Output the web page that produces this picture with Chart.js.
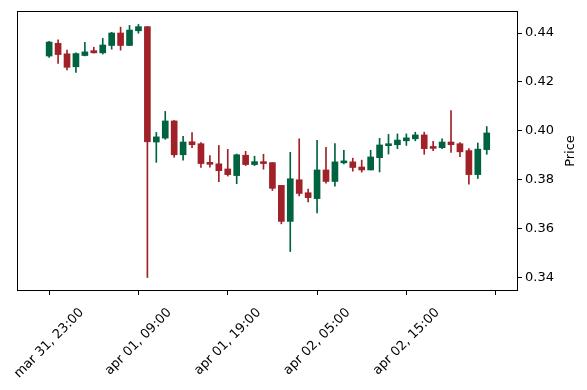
<!DOCTYPE html>
<html><head><meta charset="utf-8">
<script src="https://cdn.jsdelivr.net/npm/chart.js@4.4.0/dist/chart.umd.min.js"></script>
<style>html,body{margin:0;padding:0;background:#fff}</style>
</head><body>
<canvas id="c" width="587" height="390"></canvas>
<script>
const opens  = [0.4306,0.4358,0.4315,0.4262,0.4308,0.4328,0.4319,0.4349,0.4400,0.4349,0.4409,0.4426,0.3955,0.3971,0.4041,0.3903,0.3956,0.3948,0.3872,0.3866,0.3845,0.3818,0.3901,0.3863,0.3875,0.3871,0.3778,0.3631,0.3801,0.3748,0.3724,0.3841,0.3794,0.3870,0.3874,0.3853,0.3841,0.3891,0.3940,0.3944,0.3960,0.3968,0.3984,0.3937,0.3932,0.3955,0.3948,0.3920,0.3822,0.3924];
const highs  = [0.4366,0.4372,0.4330,0.4319,0.4362,0.4342,0.4378,0.4403,0.4424,0.4431,0.4435,0.4426,0.3994,0.4080,0.4043,0.3978,0.3994,0.3953,0.3900,0.3941,0.3925,0.3906,0.3917,0.3897,0.3905,0.3871,0.3778,0.3913,0.3968,0.3763,0.3962,0.3933,0.3949,0.3921,0.3889,0.3881,0.3921,0.3970,0.3986,0.3988,0.3988,0.3995,0.3995,0.3958,0.3968,0.4083,0.3953,0.3928,0.3951,0.4018];
const lows   = [0.4300,0.4276,0.4249,0.4239,0.4306,0.4318,0.4314,0.4334,0.4330,0.4349,0.4399,0.3402,0.3872,0.3966,0.3893,0.3881,0.3932,0.3851,0.3852,0.3793,0.3816,0.3785,0.3859,0.3859,0.3844,0.3757,0.3621,0.3508,0.3735,0.3711,0.3666,0.3787,0.3775,0.3866,0.3836,0.3832,0.3841,0.3833,0.3906,0.3928,0.3941,0.3960,0.3905,0.3920,0.3928,0.3913,0.3895,0.3783,0.3806,0.3905];
const closes = [0.4363,0.4312,0.4260,0.4316,0.4323,0.4319,0.4351,0.4400,0.4349,0.4412,0.4426,0.3956,0.3976,0.4041,0.3903,0.3955,0.3944,0.3867,0.3864,0.3838,0.3822,0.3903,0.3863,0.3875,0.3867,0.3766,0.3631,0.3805,0.3745,0.3728,0.3841,0.3794,0.3874,0.3878,0.3851,0.3841,0.3894,0.3943,0.3948,0.3963,0.3972,0.3984,0.3928,0.3929,0.3955,0.3944,0.3915,0.3822,0.3926,0.3992];
const xTickPos = [0,10,20,30,40,50];
const xTickLabels = ['mar 31, 23:00','apr 01, 09:00','apr 01, 19:00','apr 02, 05:00','apr 02, 15:00',''];
const yTicks = [0.34,0.36,0.38,0.40,0.42,0.44];
const yTitle = 'Price';

const UP = '#006340', DOWN = '#a02128';
const idx = opens.map((_, i) => i);
const colors = idx.map(i => closes[i] >= opens[i] ? UP : DOWN);
const bodies = idx.map(i => ({x: i, y: [opens[i], closes[i]]}));
const wicks = idx.map(i => ({x: i, y: [lows[i], highs[i]]}));

const FONT = 'DejaVu Sans';

const framePlugin = {
  id: 'frame',
  afterDraw(chart) {
    const {ctx, chartArea: a} = chart;
    ctx.save();
    ctx.strokeStyle = '#000';
    ctx.lineWidth = 1;
    ctx.strokeRect(Math.round(a.left) + 0.5, Math.round(a.top) + 0.5, Math.round(a.right - a.left) - 1, Math.round(a.bottom - a.top) - 1);
    const xs = chart.scales.x;
    ctx.font = '13px "' + FONT + '"';
    ctx.fillStyle = '#000';
    xTickPos.forEach((v, i) => {
      const lab = xTickLabels[i];
      if (!lab) return;
      const px = xs.getPixelForValue(v);
      const W = ctx.measureText(lab).width;
      const H = 13;
      const cy = a.bottom + 15 + (W + H) * Math.SQRT1_2 / 2;
      ctx.save();
      ctx.translate(px, cy);
      ctx.rotate(-Math.PI / 4);
      ctx.textAlign = 'center';
      ctx.textBaseline = 'middle';
      ctx.fillText(lab, 0, 0);
      ctx.restore();
    });
    ctx.save();
    ctx.translate(571, (a.top + a.bottom) / 2);
    ctx.rotate(-Math.PI / 2);
    ctx.textAlign = 'center';
    ctx.textBaseline = 'middle';
    ctx.fillText(yTitle, 0, 0);
    ctx.restore();
    ctx.restore();
  }
};

new Chart(document.getElementById('c'), {
  type: 'bar',
  data: {
    datasets: [
      {data: bodies, backgroundColor: colors, borderWidth: 0, barThickness: 6, grouped: false},
      {data: wicks, backgroundColor: colors, borderWidth: 0, barThickness: 1, grouped: false}
    ]
  },
  options: {
    responsive: false,
    animation: false,
    layout: {padding: {left: 17, top: 11, right: 0, bottom: 0}},
    plugins: {legend: {display: false}, tooltip: {enabled: false}},
    scales: {
      x: {
        type: 'linear', min: -3.6, max: 52.5, offset: false,
        grid: {offset: false, drawOnChartArea: false, drawTicks: true, tickLength: 4, color: '#000', lineWidth: 1},
        border: {display: false},
        ticks: {display: false},
        afterBuildTicks: s => { s.ticks = xTickPos.map(v => ({value: v})); },
        afterFit: s => { s.height = 99; s.paddingLeft = 0; s.paddingRight = 0; }
      },
      y: {
        type: 'linear', position: 'right', min: 0.33469, max: 0.44898,
        grid: {offset: false, drawOnChartArea: false, drawTicks: true, tickLength: 4, color: '#000', lineWidth: 1},
        border: {display: false},
        ticks: {color: '#000', padding: 3, font: {family: FONT, size: 13}, callback: v => v.toFixed(2)},
        afterBuildTicks: s => { s.ticks = yTicks.map(v => ({value: v})); },
        afterFit: s => { s.width = 69; s.paddingTop = 0; s.paddingBottom = 0; }
      }
    }
  },
  plugins: [framePlugin]
});
</script>
</body></html>
